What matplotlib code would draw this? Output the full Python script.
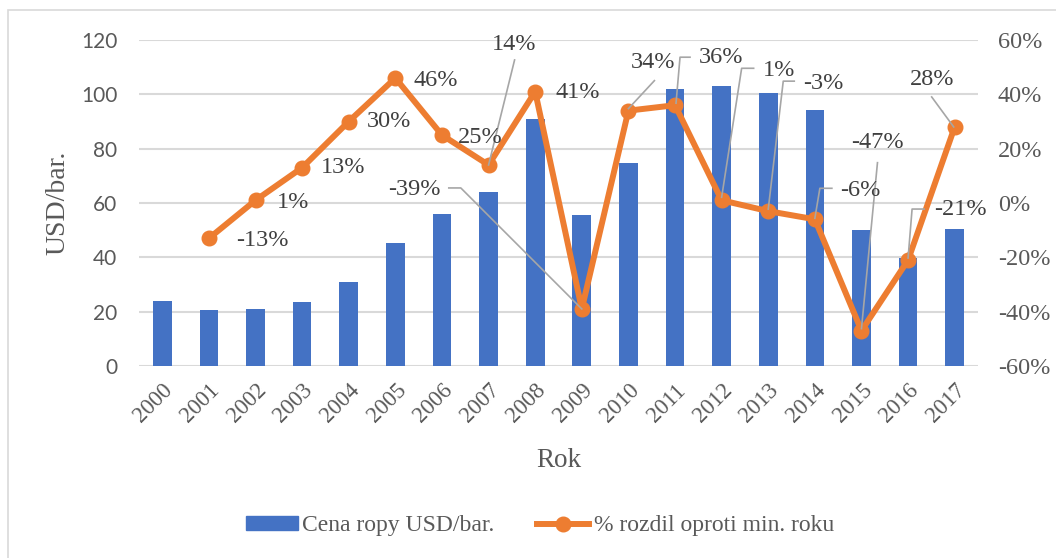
import matplotlib
matplotlib.use("Agg")
import matplotlib.pyplot as plt
from matplotlib.patches import Rectangle
from matplotlib.lines import Line2D
import numpy as np

# ---- data ----
years = ["2000", "2001", "2002", "2003", "2004", "2005", "2006", "2007", "2008",
         "2009", "2010", "2011", "2012", "2013", "2014", "2015", "2016", "2017"]
price = [23.8, 20.5, 20.8, 23.6, 31.0, 45.1, 56.1, 64.1, 90.8,
         55.5, 74.6, 101.8, 103.1, 100.4, 94.2, 50.0, 39.7, 50.5]
pct_years = years[1:]
pct = [-13, 1, 13, 30, 46, 25, 14, 41, -39, 34, 36, 1, -3, -6, -47, -21, 28]
pct_labels = ["-13%", "1%", "13%", "30%", "46%", "25%", "14%", "41%", "-39%",
              "34%", "36%", "1%", "-3%", "-6%", "-47%", "-21%", "28%"]
left_ticks = [0, 20, 40, 60, 80, 100, 120]
right_ticks = [-60, -40, -20, 0, 20, 40, 60]
right_tick_labels = ["-60%", "-40%", "-20%", "0%", "20%", "40%", "60%"]

# ---- label placement (pixel offsets from the marker, y upwards) ----
label_offsets = [(53, -2), (38, -2), (41, 0), (40, 0), (40, -2), (38, -2), (26, 120),
                 (43, -1), (-167, 119), (25, 48), (46, 48), (57, 130), (55, 128),
                 (45, 29), (16, 188), (52, 51), (-23, 47)]
leaders = {
    6: [(26, 105), (0, 0)],
    8: [(-133, 121), (-121, 121), (0, 0)],
    9: [(26, 30), (0, 2)],
    10: [(15, 48), (5, 48), (1, 2)],
    11: [(32, 132), (20, 132), (0, 3)],
    12: [(26, 130), (15, 130), (0, 2)],
    13: [(17, 31), (5, 31), (0, 1)],
    14: [(16, 168), (0, 2)],
    15: [(16, 51), (4, 51), (0, 2)],
    16: [(-23, 30), (-1, 0)],
}

BLUE = "#4472C4"
ORANGE = "#ED7D31"
GRID = "#D9D9D9"
TXT = "#404040"
TICK = "#595959"
SERIF = "Liberation Serif"

fig = plt.figure(figsize=(10.56, 5.58), dpi=100)
fig.patch.set_facecolor("white")
# outer frame
fig.add_artist(Rectangle((8 / 1056, -0.1), 1.2, (558 - 10) / 558 + 0.1,
                         transform=fig.transFigure, fill=False, edgecolor=GRID, lw=1.2))

ax = fig.add_axes([139 / 1056, (558 - 366) / 558, (978 - 139) / 1056, (366 - 40) / 558])
x = np.arange(len(years))
ax.bar(x, price, width=0.4, color=BLUE, zorder=2)
ax.set_xlim(-0.5, len(years) - 0.5)
ax.set_ylim(0, 120)
ax.set_yticks(left_ticks)
ax.yaxis.grid(True, color=GRID, lw=1.5, zorder=0)
ax.set_axisbelow(True)
for s in ax.spines.values():
    s.set_visible(False)
ax.tick_params(axis="both", length=0)
ax.tick_params(axis="y", pad=15.5, labelsize=15, labelcolor=TICK)
for t in ax.get_yticklabels():
    t.set_fontfamily("Lato")
ax.set_xticks(x)
ax.set_xticklabels(years, rotation=45, ha="right", rotation_mode="anchor",
                   fontsize=16.5, color=TICK, family=SERIF)
ax.tick_params(axis="x", pad=10)
ax.set_xlabel("Rok", fontsize=19.5, color=TICK, family=SERIF, labelpad=15)
ax.set_ylabel("USD/bar.", fontsize=20, color=TICK, family=SERIF, labelpad=8)

ax2 = ax.twinx()
ax2.set_ylim(-60, 60)
ax2.set_yticks(right_ticks)
ax2.set_yticklabels(right_tick_labels, fontsize=17.5, color=TICK, family=SERIF)
ax2.tick_params(axis="y", length=0, pad=14.4)
for s in ax2.spines.values():
    s.set_visible(False)
xp = np.arange(1, len(years))
ax2.plot(xp, pct, color=ORANGE, lw=4.3, marker="o", ms=10.5, zorder=4,
         solid_joinstyle="round")

# data labels and leader lines
fig.canvas.draw()
inv = ax2.transData.inverted()
for i, (xi, v, lab) in enumerate(zip(xp, pct, pct_labels)):
    dx, dy = label_offsets[i]
    ax2.annotate(lab, xy=(xi, v), xytext=(dx, dy), textcoords="offset pixels",
                 ha="center", va="center", fontsize=17.5, color=TXT, family=SERIF,
                 zorder=6)
    if i in leaders:
        base = ax2.transData.transform((xi, v))
        pts = np.array([inv.transform((base[0] + ox, base[1] + oy))
                        for ox, oy in leaders[i]])
        ax2.plot(pts[:, 0], pts[:, 1], color="#A6A6A6", lw=1.2, zorder=5)

handles = [Rectangle((0, 0), 1, 1, color=BLUE),
           Line2D([], [], color=ORANGE, lw=4.3, marker="o", ms=10.5)]
fig.legend(handles, ["Cena ropy USD/bar.", "% rozdil oproti min. roku"],
           loc="center", bbox_to_anchor=(540 / 1056, 1 - 526 / 558), ncol=2,
           frameon=False, prop={"family": SERIF, "size": 17}, labelcolor=TICK,
           handlelength=2.2, handleheight=0.5, handletextpad=0.2, columnspacing=1.8)

fig.savefig("out.png", dpi=100)
